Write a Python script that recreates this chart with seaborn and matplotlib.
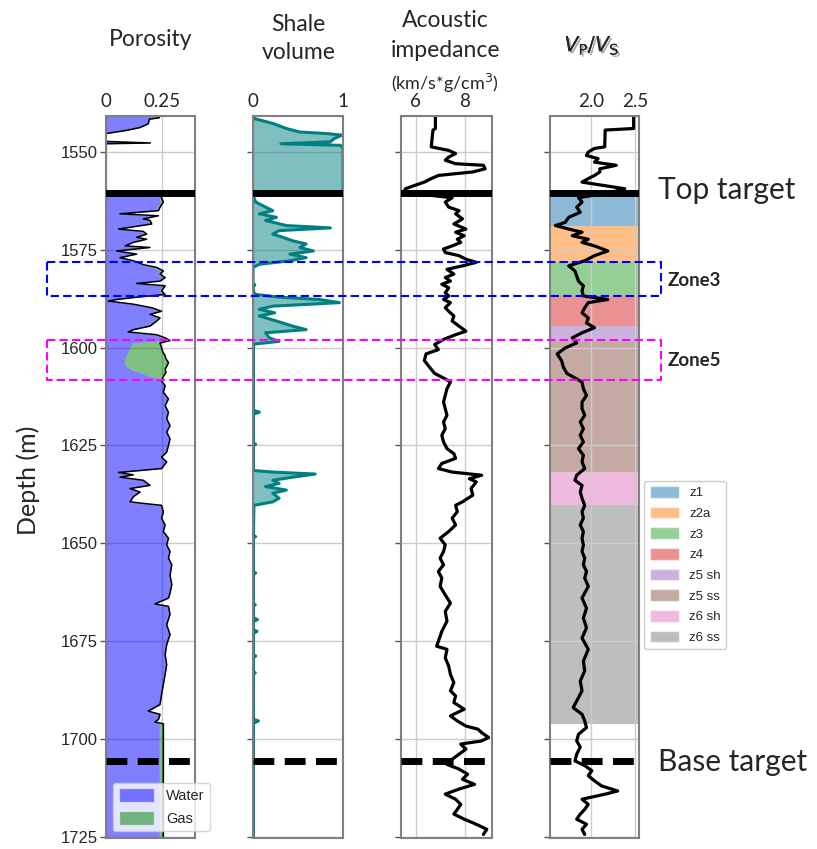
import numpy as np
import pandas as pd
import matplotlib
matplotlib.use("Agg")
import matplotlib.pyplot as plt
import seaborn as sns
from matplotlib.patches import Rectangle, Patch
import matplotlib.transforms as mtransforms
import matplotlib.patheffects as pe

# ---------------- data ----------------
por_depth = [1540.8, 1541.3, 1541.6, 1542.8, 1543.2, 1543.8, 1544.5, 1545.3, 1547.3, 1547.7, 1547.9, 1560.4,
             1560.5, 1561.7, 1562.8, 1564.1, 1565.0, 1565.8, 1566.3, 1567.1, 1567.5, 1568.4, 1569.7, 1570.3,
             1571.0, 1571.8, 1572.3, 1573.1, 1574.0, 1574.4, 1575.3, 1576.1, 1577.0, 1577.8, 1578.8, 1579.5,
             1580.4, 1581.2, 1582.1, 1583.0, 1583.6, 1584.2, 1585.5, 1586.4, 1587.2, 1587.7, 1588.1, 1588.9,
             1589.8, 1590.7, 1591.5, 1592.4, 1593.2, 1594.5, 1595.4, 1596.0, 1596.7, 1597.5, 1598.2, 1598.8,
             1600.1, 1601.0, 1602.1, 1602.9, 1603.8, 1604.6, 1605.5, 1606.3, 1607.2, 1607.8, 1608.5, 1609.7,
             1611.4, 1613.1, 1614.8, 1616.5, 1618.2, 1619.9, 1621.6, 1623.3, 1625.0, 1626.7, 1628.0, 1629.2,
             1630.9, 1631.9, 1632.5, 1633.1, 1633.9, 1635.2, 1636.0, 1636.9, 1638.1, 1639.4, 1639.8, 1640.3,
             1642.0, 1643.6, 1645.3, 1647.0, 1648.7, 1650.4, 1652.1, 1653.8, 1655.5, 1658.1, 1660.6, 1662.7,
             1664.0, 1665.5, 1666.1, 1668.2, 1670.8, 1673.3, 1675.9, 1678.4, 1681.0, 1683.5, 1686.1, 1688.6,
             1691.2, 1692.9, 1693.7, 1695.0, 1695.7, 1696.1, 1705.0, 1725.3]
por_total = [0.243, 0.238, 0.195, 0.19, 0.175, 0.15, 0.09, 0.0, 0.0, 0.20, 0.0, 0.0,
             0.240, 0.250, 0.258, 0.243, 0.236, 0.063, 0.236, 0.168, 0.198, 0.206, 0.056, 0.168,
             0.183, 0.138, 0.183, 0.123, 0.086, 0.198, 0.048, 0.138, 0.063, 0.123, 0.168, 0.228,
             0.258, 0.243, 0.266, 0.243, 0.138, 0.266, 0.250, 0.266, 0.123, 0.048, 0.011, 0.123,
             0.206, 0.250, 0.198, 0.243, 0.228, 0.198, 0.123, 0.100, 0.228, 0.266, 0.288, 0.243,
             0.250, 0.255, 0.266, 0.270, 0.281, 0.275, 0.266, 0.270, 0.260, 0.255, 0.250, 0.266,
             0.258, 0.281, 0.266, 0.281, 0.273, 0.288, 0.273, 0.288, 0.281, 0.273, 0.250, 0.273,
             0.250, 0.056, 0.123, 0.063, 0.168, 0.198, 0.108, 0.153, 0.123, 0.108, 0.168, 0.250,
             0.258, 0.250, 0.266, 0.258, 0.281, 0.273, 0.288, 0.281, 0.296, 0.288, 0.296, 0.288,
             0.281, 0.220, 0.281, 0.288, 0.273, 0.288, 0.273, 0.266, 0.273, 0.266, 0.258, 0.250,
             0.243, 0.190, 0.243, 0.236, 0.220, 0.258, 0.258, 0.258]
por_gas = [0, 0, 0, 0, 0, 0, 0, 0, 0, 0, 0, 0,
           0.010, 0.010, 0.012, 0.012, 0.010, 0.0, 0.015, 0.005, 0.010, 0.010, 0.0, 0.005,
           0.010, 0.005, 0.010, 0.0, 0.0, 0.005, 0.0, 0.0, 0.0, 0.005, 0.010, 0.015,
           0.015, 0.010, 0.010, 0.010, 0.0, 0.010, 0.010, 0.010, 0.0, 0.0, 0.0, 0.0,
           0.005, 0.010, 0.005, 0.010, 0.010, 0.005, 0.0, 0.0, 0.010, 0.010, 0.020, 0.123,
           0.142, 0.155, 0.176, 0.185, 0.196, 0.185, 0.156, 0.117, 0.070, 0.027, 0.0, 0.0,
           0, 0, 0, 0, 0, 0, 0, 0, 0, 0, 0, 0,
           0, 0, 0, 0, 0, 0, 0, 0, 0, 0, 0, 0,
           0, 0, 0, 0, 0, 0, 0, 0, 0, 0, 0, 0,
           0, 0, 0, 0, 0, 0, 0, 0, 0, 0, 0, 0,
           0, 0, 0, 0, 0, 0.018, 0.018, 0.018]

vsh_depth = [1540.8, 1541.5, 1542.7, 1544.0, 1544.9, 1545.3, 1545.7, 1546.6, 1547.4, 1547.9, 1548.3, 1549.1,
             1560.4, 1560.5, 1561.7, 1562.8, 1564.1, 1565.0, 1565.8, 1566.7, 1567.5, 1568.8, 1569.4, 1570.1,
             1571.0, 1571.8, 1572.7, 1573.5, 1574.4, 1575.3, 1576.1, 1577.0, 1577.8, 1578.7, 1579.5, 1583.5,
             1584.0, 1584.5, 1586.0, 1586.4, 1587.1, 1587.7, 1588.5, 1589.4, 1590.2, 1591.1, 1591.9, 1593.2,
             1594.5, 1595.4, 1596.2, 1597.5, 1598.4, 1599.1, 1600.0, 1616.0, 1616.5, 1617.0, 1624.4, 1624.7,
             1625.0, 1631.4, 1631.8, 1632.3, 1633.1, 1633.9, 1634.7, 1635.5, 1636.4, 1637.2, 1638.5, 1639.4,
             1640.3, 1648.0, 1648.3, 1648.6, 1657.3, 1657.6, 1658.0, 1665.4, 1665.7, 1666.0, 1669.0, 1669.5,
             1670.0, 1672.1, 1672.5, 1673.0, 1678.5, 1678.8, 1679.2, 1682.8, 1683.1, 1683.4, 1695.0, 1695.4,
             1696.0, 1725.3]
vsh_value = [0.01, 0.02, 0.22, 0.37, 0.52, 0.82, 0.99, 0.90, 0.86, 0.31, 0.97, 1.0,
             1.0, 0.01, 0.01, 0.03, 0.14, 0.22, 0.07, 0.26, 0.14, 0.37, 0.86, 0.29,
             0.22, 0.33, 0.44, 0.59, 0.52, 0.67, 0.41, 0.59, 0.41, 0.07, 0.0, 0.0,
             0.02, 0.0, 0.01, 0.03, 0.29, 0.74, 0.96, 0.22, 0.07, 0.24, 0.07, 0.26,
             0.44, 0.59, 0.14, 0.18, 0.29, 0.01, 0.005, 0.005, 0.07, 0.005, 0.005, 0.03,
             0.005, 0.005, 0.22, 0.69, 0.44, 0.22, 0.29, 0.14, 0.37, 0.22, 0.29, 0.22,
             0.01, 0.005, 0.03, 0.005, 0.005, 0.03, 0.005, 0.005, 0.025, 0.005, 0.005, 0.05,
             0.005, 0.005, 0.045, 0.005, 0.005, 0.03, 0.005, 0.005, 0.025, 0.005, 0.005, 0.06,
             0.005, 0.005]

ai_depth = [1540.8, 1544.0, 1544.4, 1548.7, 1549.6, 1550.4, 1551.3, 1552.1, 1553.0, 1553.4, 1554.3, 1555.1,
            1556.0, 1556.8, 1557.7, 1558.6, 1559.4, 1560.3, 1561.7, 1562.8, 1564.1, 1565.0, 1565.8, 1567.1,
            1568.4, 1569.7, 1570.5, 1571.4, 1572.3, 1573.1, 1574.0, 1574.8, 1575.7, 1576.5, 1577.4, 1578.2,
            1579.1, 1580.0, 1581.2, 1582.1, 1583.0, 1583.8, 1584.7, 1586.0, 1586.8, 1587.7, 1588.5, 1589.8,
            1590.7, 1591.9, 1593.2, 1594.5, 1595.8, 1596.7, 1597.9, 1599.2, 1600.5, 1601.6, 1603.3, 1605.0,
            1606.6, 1608.0, 1608.8, 1610.5, 1612.2, 1613.9, 1615.6, 1617.3, 1619.0, 1620.7, 1622.4, 1624.1,
            1625.8, 1627.1, 1628.3, 1629.6, 1630.9, 1631.8, 1632.6, 1633.5, 1634.3, 1636.0, 1637.7, 1639.4,
            1640.3, 1641.9, 1643.6, 1645.3, 1647.0, 1648.7, 1650.4, 1652.1, 1653.8, 1655.5, 1657.2, 1658.9,
            1661.0, 1663.2, 1665.3, 1667.4, 1669.9, 1672.5, 1675.0, 1676.3, 1677.1, 1679.3, 1681.4, 1683.5,
            1685.6, 1687.7, 1689.0, 1690.7, 1692.4, 1694.1, 1695.4, 1696.7, 1697.5, 1698.4, 1699.6, 1700.5,
            1701.3, 1702.6, 1703.9, 1705.2, 1706.5, 1707.7, 1709.0, 1710.3, 1711.6, 1712.8, 1714.1, 1715.4,
            1716.7, 1718.0, 1719.2, 1720.5, 1721.8, 1723.1, 1724.4]
ai_value = [6.80, 6.80, 6.70, 6.63, 7.34, 7.62, 7.34, 7.20, 7.62, 8.75, 8.82, 8.32,
            6.92, 6.63, 6.35, 5.93, 5.58, 5.51, 7.48, 7.20, 7.34, 7.76, 7.62, 7.90,
            7.55, 8.04, 7.62, 7.97, 7.69, 7.83, 7.48, 7.13, 7.20, 7.76, 8.04, 8.46,
            7.90, 7.27, 7.55, 7.20, 7.41, 7.06, 7.34, 7.20, 7.34, 7.13, 7.41, 7.20,
            7.34, 7.55, 7.48, 7.76, 8.04, 7.62, 7.13, 6.77, 6.92, 6.42, 6.35, 6.56,
            6.77, 7.20, 7.41, 7.27, 7.20, 7.13, 7.20, 7.27, 7.13, 7.20, 7.06, 7.13,
            7.27, 7.55, 7.62, 7.06, 6.92, 7.48, 8.68, 8.18, 8.46, 8.25, 8.32, 7.90,
            7.62, 7.69, 7.48, 7.62, 7.34, 6.99, 7.20, 7.13, 6.99, 7.13, 6.92, 7.06,
            6.99, 7.20, 7.41, 7.20, 7.27, 7.06, 6.92, 6.85, 7.27, 7.20, 7.34, 7.41,
            7.55, 7.41, 7.62, 7.55, 7.97, 7.41, 7.69, 8.04, 8.53, 8.68, 8.96, 8.68,
            7.83, 8.04, 7.76, 7.48, 7.27, 7.76, 8.11, 7.90, 8.39, 7.76, 7.20, 7.62,
            7.83, 7.69, 7.55, 7.97, 8.46, 8.89, 8.75]

vpvs_depth = [1540.8, 1544.0, 1544.4, 1548.7, 1549.1, 1550.0, 1550.9, 1551.7, 1552.6, 1553.4, 1554.3, 1555.1,
              1556.0, 1556.8, 1557.7, 1558.6, 1559.4, 1560.3, 1561.7, 1562.8, 1564.1, 1565.4, 1566.7, 1568.0,
              1568.8, 1569.7, 1570.5, 1571.4, 1572.3, 1573.1, 1574.0, 1575.3, 1576.5, 1577.8, 1579.1, 1580.4,
              1581.7, 1583.0, 1584.2, 1585.5, 1586.8, 1587.7, 1588.5, 1589.8, 1591.1, 1592.4, 1593.7, 1594.9,
              1596.2, 1597.5, 1598.8, 1600.1, 1601.6, 1603.3, 1605.0, 1606.6, 1608.0, 1608.8, 1610.5, 1612.2,
              1613.9, 1615.6, 1617.3, 1619.0, 1620.7, 1622.4, 1624.1, 1625.8, 1627.5, 1629.2, 1630.9, 1632.6,
              1633.9, 1635.2, 1636.9, 1638.5, 1640.3, 1641.9, 1643.6, 1645.3, 1647.0, 1648.7, 1650.4, 1652.1,
              1653.8, 1655.5, 1657.2, 1658.9, 1661.0, 1664.0, 1666.6, 1669.1, 1671.6, 1674.2, 1677.1, 1680.1,
              1682.6, 1685.2, 1687.7, 1690.3, 1692.0, 1693.7, 1695.4, 1697.1, 1698.8, 1700.5, 1702.1, 1703.9,
              1705.6, 1706.8, 1708.1, 1709.4, 1710.7, 1712.0, 1713.3, 1714.1, 1715.4, 1716.7, 1718.0, 1719.2,
              1720.5, 1721.8, 1723.1, 1724.4]
vpvs_value = [2.48, 2.48, 2.16, 2.155, 2.04, 1.97, 1.95, 2.08, 2.04, 2.285, 2.10, 2.10,
              2.04, 1.97, 1.90, 2.155, 2.38, 2.23, 1.86, 1.90, 1.84, 1.88, 1.75, 1.71,
              1.60, 1.75, 1.90, 1.79, 1.97, 1.90, 2.04, 2.19, 2.04, 1.93, 1.75, 1.82,
              1.84, 1.86, 1.915, 1.90, 1.915, 2.19, 1.97, 1.93, 1.90, 1.97, 1.95, 2.04,
              1.90, 1.79, 1.84, 1.71, 1.62, 1.67, 1.69, 1.73, 1.84, 1.90, 1.915, 1.95,
              1.90, 1.90, 1.93, 1.88, 1.915, 1.88, 1.915, 1.86, 1.915, 1.90, 1.93, 1.84,
              1.82, 1.90, 1.88, 1.90, 1.93, 1.90, 1.915, 1.88, 1.915, 1.90, 1.915, 1.90,
              1.93, 1.915, 1.95, 1.93, 1.97, 1.90, 1.95, 1.915, 1.95, 1.90, 1.97, 1.915,
              1.93, 1.88, 1.90, 1.84, 1.80, 1.90, 1.93, 1.95, 1.86, 1.84, 1.88, 1.84,
              1.82, 1.93, 2.01, 1.97, 2.04, 2.12, 2.30, 2.16, 1.90, 1.97, 1.93, 1.88,
              1.84, 1.95, 1.90, 1.93]

zone_names = ["z1", "z2a", "z3", "z4", "z5 sh", "z5 ss", "z6 sh", "z6 ss"]
zone_tops = [1560.4, 1568.8, 1578.0, 1586.9, 1594.5, 1598.3, 1631.9, 1640.1]
zone_bases = [1568.8, 1578.0, 1586.9, 1594.5, 1598.3, 1631.9, 1640.1, 1696.3]
zone_colors = ["tab:blue", "tab:orange", "tab:green", "tab:red", "tab:purple", "tab:brown", "tab:pink", "tab:gray"]

top_target = 1560.4
base_target = 1705.7
box_zone3 = (1578.0, 1586.9)
box_zone5 = (1598.1, 1608.3)
depth_ticks = [1550, 1575, 1600, 1625, 1650, 1675, 1700, 1725]

# ---------------- figure ----------------
sns.set_theme(style="white")
plt.rcParams["font.family"] = ["Liberation Sans", "DejaVu Sans"]
TITLE_FONT = ["Lato", "DejaVu Sans"]

fig = plt.figure(figsize=(8.17, 8.49), dpi=100)
bottom, height = 0.013, 0.8504
specs = [(0.1297, 0.1089), (0.3097, 0.1102), (0.4908, 0.1114), (0.6732, 0.1089)]
axes = [fig.add_axes([x, bottom, w, height]) for x, w in specs]

por_df = pd.DataFrame({"depth": por_depth, "phi": por_total, "gas": por_gas})
por_df["water"] = por_df["phi"] - por_df["gas"]
vsh_df = pd.DataFrame({"depth": vsh_depth, "vsh": vsh_value})
ai_df = pd.DataFrame({"depth": ai_depth, "ai": ai_value})
vpvs_df = pd.DataFrame({"depth": vpvs_depth, "vpvs": vpvs_value})

# Porosity
ax = axes[0]
ax.fill_betweenx(por_df["depth"], 0, por_df["water"], color="blue", alpha=0.5, lw=0, label="Water")
ax.fill_betweenx(por_df["depth"], por_df["water"], por_df["phi"], color="green", alpha=0.5, lw=0, label="Gas")
sns.lineplot(data=por_df, x="phi", y="depth", orient="y", sort=False, estimator=None,
             color="black", lw=1.1, ax=ax)
ax.set_xlim(0, 0.4)
ax.set_xticks([0, 0.25])
ax.set_xticklabels(["0", "0.25"])

# Shale volume
ax = axes[1]
ax.fill_betweenx(vsh_df["depth"], 0, vsh_df["vsh"], color="teal", alpha=0.5, lw=0)
sns.lineplot(data=vsh_df, x="vsh", y="depth", orient="y", sort=False, estimator=None,
             color="teal", lw=2.2, ax=ax)
ax.set_xlim(0, 1)
ax.set_xticks([0, 1])
ax.set_xticklabels(["0", "1"])

# Acoustic impedance
ax = axes[2]
sns.lineplot(data=ai_df, x="ai", y="depth", orient="y", sort=False, estimator=None,
             color="black", lw=2.3, ax=ax)
ax.set_xlim(5.4, 9.1)
ax.set_xticks([6, 8])
ax.set_xticklabels(["6", "8"])

# Vp/Vs with zones
ax = axes[3]
for t, b, c in zip(zone_tops, zone_bases, zone_colors):
    ax.axhspan(t, b, color=c, alpha=0.5, lw=0, zorder=0.5)
sns.lineplot(data=vpvs_df, x="vpvs", y="depth", orient="y", sort=False, estimator=None,
             color="black", lw=2.3, ax=ax)
ax.set_xlim(1.54, 2.54)
ax.set_xticks([2.0, 2.5])
ax.set_xticklabels(["2.0", "2.5"])

for i, ax in enumerate(axes):
    ax.set_ylim(1725.3, 1540.8)
    ax.set_yticks(depth_ticks)
    ax.set_xlabel("")
    ax.set_ylabel("")
    ax.grid(True, color="#cccccc", lw=1)
    ax.set_axisbelow(True)
    ax.xaxis.tick_top()
    ax.tick_params(axis="x", top=True, bottom=False, length=0, pad=4, labelsize=13.5)
    for lab in ax.get_xticklabels():
        lab.set_family(TITLE_FONT)
    ax.tick_params(axis="y", left=True, length=4, width=1, color="#555555", pad=2, labelsize=12)
    if i > 0:
        ax.set_yticklabels([])
    for s in ax.spines.values():
        s.set_color("#808080")
        s.set_linewidth(1.5)
    ax.axhline(top_target, color="black", lw=5, zorder=5)
    ax.axhline(base_target, color="black", lw=5, ls=(0, (3, 1.5)), zorder=5)

# Legends
axes[0].legend(handles=[Patch(facecolor="blue", alpha=0.5, label="Water"),
                        Patch(facecolor="green", alpha=0.5, label="Gas")],
               loc="lower left", bbox_to_anchor=(0.05, 0.005), fontsize=10.5,
               handlelength=2.4, handleheight=1.1, framealpha=0.8, borderaxespad=0.2)
axes[3].legend(handles=[Patch(facecolor=c, alpha=0.5, label=n) for n, c in zip(zone_names, zone_colors)],
               loc="upper left", bbox_to_anchor=(1.06, 0.495), fontsize=9.5,
               handlelength=2.2, handleheight=1.0, labelspacing=0.55, borderaxespad=0.0, framealpha=1)

# Titles
TS = 16.5
fig.text(0.184, 0.953, "Porosity", ha="center", va="center", fontsize=TS, family=TITLE_FONT)
fig.text(0.365, 0.9706, "Shale", ha="center", va="center", fontsize=TS, family=TITLE_FONT)
fig.text(0.365, 0.9376, "volume", ha="center", va="center", fontsize=TS, family=TITLE_FONT)
fig.text(0.5447, 0.9764, "Acoustic", ha="center", va="center", fontsize=TS, family=TITLE_FONT)
fig.text(0.5447, 0.9411, "impedance", ha="center", va="center", fontsize=TS, family=TITLE_FONT)
fig.text(0.5447, 0.9022, "(km/s*g/cm$^3$)", ha="center", va="center", fontsize=13, family=TITLE_FONT)
vt = fig.text(0.7246, 0.947, r"$V_\mathrm{P}/V_\mathrm{S}$", ha="center", va="center", fontsize=15)
vt.set_path_effects([pe.withSimplePatchShadow(offset=(1.5, -1.5), alpha=0.35), pe.Normal()])
fig.text(0.034, 0.4346, "Depth (m)", rotation=90, ha="center", va="center", fontsize=18, family=TITLE_FONT)

fig.text(0.8054, 0.776, "Top target", ha="left", va="center", fontsize=21.5, family=TITLE_FONT)
fig.text(0.8054, 0.1025, "Base target", ha="left", va="center", fontsize=21.5, family=TITLE_FONT)
fig.text(0.8176, 0.6702, "Zone3", ha="left", va="center", fontsize=13.5, fontweight="bold", family=TITLE_FONT)
fig.text(0.8176, 0.5748, "Zone5", ha="left", va="center", fontsize=13.5, fontweight="bold", family=TITLE_FONT)

# Dashed zone boxes across the tracks
blend = mtransforms.blended_transform_factory(fig.transFigure, axes[0].transData)
for (t, b), col in [(box_zone3, "blue"), (box_zone5, "magenta")]:
    r = Rectangle((0.0575, t), 0.7515, b - t, transform=blend, fill=False,
                  ec=col, ls=(0, (4, 2)), lw=1.5, zorder=10)
    fig.add_artist(r)

fig.savefig("out.png", dpi=100)
